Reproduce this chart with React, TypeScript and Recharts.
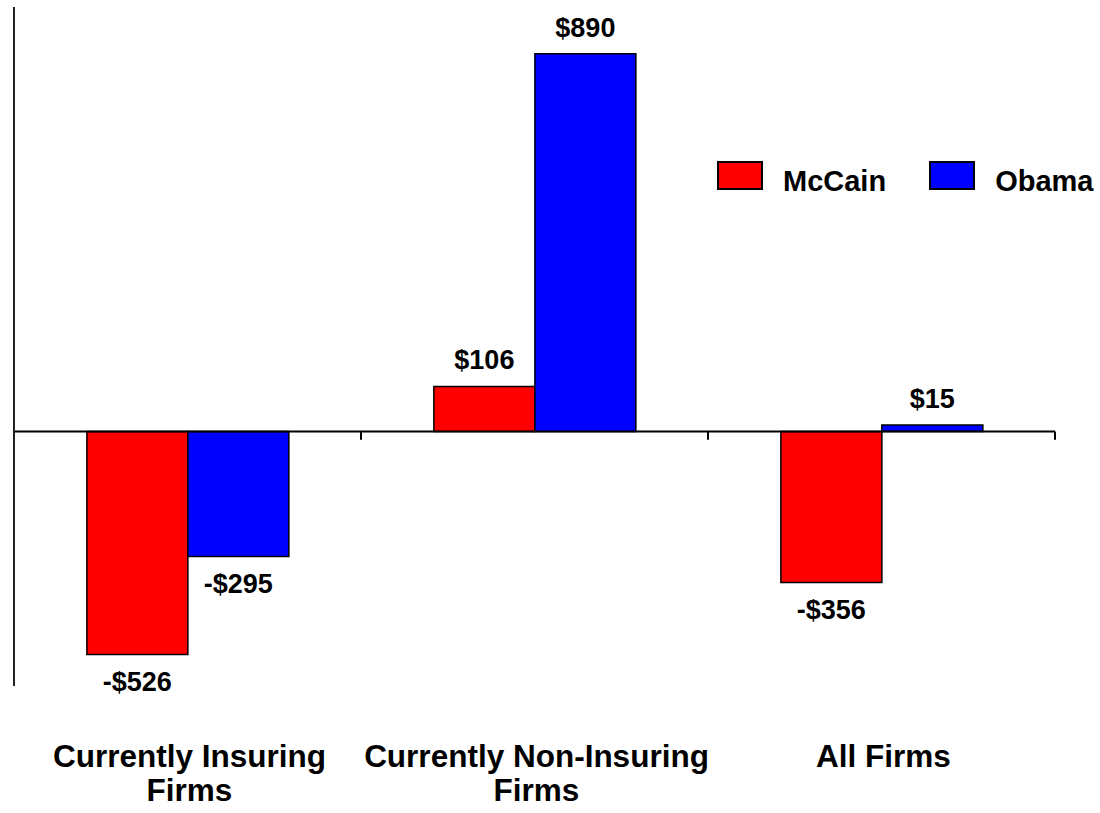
import React from "react";
import {
  BarChart,
  Bar,
  XAxis,
  YAxis,
  Legend,
  ReferenceLine,
  LabelList,
} from "recharts";

const categories = [
  "Currently Insuring Firms",
  "Currently Non-Insuring Firms",
  "All Firms",
];
const categoryLines = [
  ["Currently Insuring", "Firms"],
  ["Currently Non-Insuring", "Firms"],
  ["All Firms"],
];
const mccain = [-526, 106, -356];
const obama = [-295, 890, 15];

const data = categories.map((name, i) => ({
  name,
  McCain: mccain[i],
  Obama: obama[i],
}));

// group separators: left edge of every category, plus right edge of the last
const groupEdges: { cat: string; pos: "start" | "end" }[] = [
  ...categories.map((c) => ({ cat: c, pos: "start" as const })),
  { cat: categories[categories.length - 1], pos: "end" },
];

const FONT = '"Liberation Sans", Arial, sans-serif';

const money = (v: any) => {
  const n = Number(v);
  return n < 0 ? `-$${Math.abs(n)}` : `$${n}`;
};

function CategoryTick(props: any) {
  const { x, y, index } = props;
  const lines = categoryLines[index] || [];
  return (
    <text
      x={x + 2}
      y={y}
      textAnchor="middle"
      fontFamily={FONT}
      fontWeight="bold"
      fontSize={31.5}
      fill="#000"
    >
      {lines.map((l, i) => (
        <tspan key={i} x={x + 2} dy={i === 0 ? 81 : 34}>
          {l}
        </tspan>
      ))}
    </text>
  );
}

function LegendBoxes(props: any) {
  const items = props.payload || [];
  return (
    <div style={{ display: "flex", alignItems: "flex-start" }}>
      {items.map((it: any, i: number) => (
        <div
          key={it.value}
          style={{
            display: "flex",
            alignItems: "flex-start",
            marginRight: i === 0 ? 43 : 0,
          }}
        >
          <div
            style={{
              width: 42,
              height: 25,
              background: it.color,
              border: "2px solid #000",
              marginRight: 20,
            }}
          />
          <span
            style={{
              fontFamily: FONT,
              fontWeight: "bold",
              fontSize: 29,
              lineHeight: 1,
              marginTop: 6,
              color: "#000",
            }}
          >
            {it.value}
          </span>
        </div>
      ))}
    </div>
  );
}

export default function App() {
  return (
    <div style={{ position: "absolute", left: 0, top: 0, background: "#fff" }}>
      <BarChart
        width={1100}
        height={813}
        data={data}
        margin={{ top: 7, right: 45, bottom: 0, left: 13 }}
        barCategoryGap="21%"
        barGap={0}
      >
        <XAxis
          dataKey="name"
          height={127}
          axisLine={false}
          tickLine={false}
          tickSize={0}
          tickMargin={0}
          interval={0}
          tick={<CategoryTick />}
        />
        <YAxis
          domain={[-600, 1000]}
          allowDataOverflow
          width={1}
          tick={false}
          tickLine={false}
          axisLine={{ stroke: "#222", strokeWidth: 2 }}
        />
        <Legend
          layout="vertical"
          verticalAlign="middle"
          align="center"
          wrapperStyle={{ position: "absolute", left: 717, top: 161, width: 383 }}
          content={<LegendBoxes />}
        />
        <Bar
          dataKey="McCain"
          fill="#ff0000"
          stroke="#000"
          strokeWidth={1.5}
          isAnimationActive={false}
        >
          <LabelList
            dataKey="McCain"
            position="top"
            offset={17}
            formatter={money}
            style={{ fontFamily: FONT, fontWeight: "bold", fontSize: 27, fill: "#000" }}
          />
        </Bar>
        <Bar
          dataKey="Obama"
          fill="#0000ff"
          stroke="#000"
          strokeWidth={1.5}
          isAnimationActive={false}
        >
          <LabelList
            dataKey="Obama"
            position="top"
            offset={17}
            formatter={money}
            style={{ fontFamily: FONT, fontWeight: "bold", fontSize: 27, fill: "#000" }}
          />
        </Bar>
        <ReferenceLine y={0} stroke="#000" strokeWidth={2} />
        {groupEdges.map((e, i) => (
          <ReferenceLine
            key={i}
            position={e.pos}
            segment={[
              { x: e.cat, y: 0 },
              { x: e.cat, y: -20 },
            ]}
            stroke="#000"
            strokeWidth={2}
          />
        ))}
      </BarChart>
    </div>
  );
}
